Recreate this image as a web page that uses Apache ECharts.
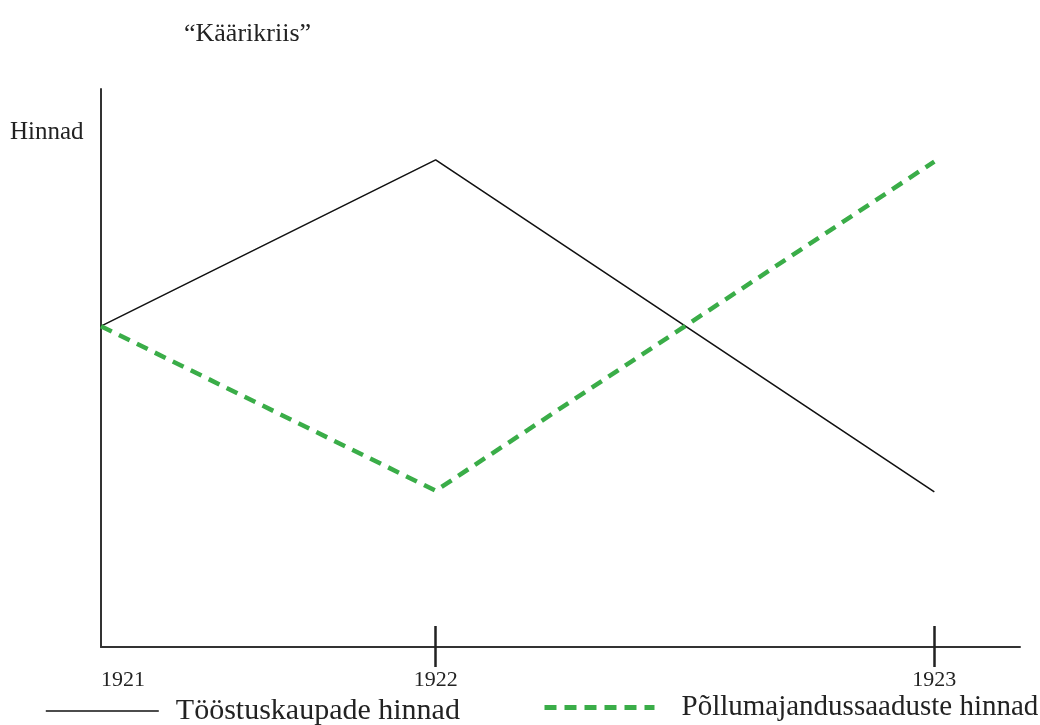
<!DOCTYPE html>
<html>
<head>
<meta charset="utf-8">
<title>Käärikriis</title>
<script src="https://cdn.jsdelivr.net/npm/echarts@6.0.0/dist/echarts.min.js"></script>
<style>
  html, body { margin: 0; padding: 0; background: #fff; }
  #chart { width: 1040px; height: 725px; }
</style>
</head>
<body>
<div id="chart"></div>
<script>
// aastad ja nende asukoht x-teljel (joonisel pole vahed võrdsed)
const years = ['1921', '1922', '1923'];
const yearPos = [0, 1, 2.49];
// hinnad (suhtelised, 0..100)
const industryPrices = [57.5, 87.3, 27.8];
const farmPrices = [57.5, 28.0, 87.0];

const serif = '"Liberation Serif", "DejaVu Serif", serif';
const ink = '#222';
const green = '#3aad48';

const chart = echarts.init(document.getElementById('chart'));

const option = {
  animation: false,
  backgroundColor: '#fff',
  title: [
    {
      text: '“Käärikriis”',
      left: 184, top: 21, padding: 0,
      textStyle: { fontFamily: serif, fontSize: 26, fontWeight: 'normal', color: ink }
    },
    {
      text: 'Hinnad',
      left: 10, top: 120, padding: 0,
      textStyle: { fontFamily: serif, fontSize: 25, fontWeight: 'normal', color: ink }
    }
  ],
  grid: { left: 101, right: 20, top: 89, bottom: 78, containLabel: false },
  legend: [
    {
      left: 45, top: 696, padding: 0,
      itemWidth: 113, itemHeight: 14,
      data: ['Tööstuskaupade hinnad'],
      itemStyle: { opacity: 0 },
      lineStyle: { color: '#111', width: 1.6 },
      textStyle: { fontFamily: serif, fontSize: 30, color: ink, padding: [0, 0, 0, 12] }
    },
    {
      left: 542, top: 693, padding: 0,
      itemWidth: 110, itemHeight: 14,
      data: ['Põllumajandussaaduste hinnad'],
      itemStyle: { opacity: 0 },
      lineStyle: { color: green, width: 5, type: [12, 8] },
      textStyle: { fontFamily: serif, fontSize: 29, color: ink, padding: [0, 0, 0, 22] }
    }
  ],
  xAxis: [
    {
      type: 'value', min: 0, max: 2.746, position: 'bottom',
      axisLine: { show: true, lineStyle: { color: '#333', width: 2 } },
      axisTick: {
        show: true, inside: false, length: 20,
        customValues: yearPos.slice(1),
        lineStyle: { color: '#222', width: 2.5 }
      },
      axisLabel: {
        show: true, margin: 22,
        customValues: yearPos,
        alignMinLabel: 'left',
        formatter: v => years[yearPos.indexOf(v)] || '',
        fontFamily: serif, fontSize: 22, color: ink
      },
      splitLine: { show: false }
    },
    {
      type: 'value', min: 0, max: 2.746, position: 'bottom', offset: 0,
      axisLine: { show: false },
      axisTick: {
        show: true, inside: true, length: 21,
        customValues: yearPos.slice(1),
        lineStyle: { color: '#222', width: 2.5 }
      },
      axisLabel: { show: false },
      splitLine: { show: false }
    }
  ],
  yAxis: {
    type: 'value', min: 0, max: 100,
    axisLine: { show: true, lineStyle: { color: '#333', width: 2 } },
    axisTick: { show: false },
    axisLabel: { show: false },
    splitLine: { show: false }
  },
  series: [
    {
      name: 'Tööstuskaupade hinnad',
      type: 'line',
      symbol: 'none',
      data: yearPos.map((x, i) => [x, industryPrices[i]]),
      lineStyle: { color: '#111', width: 1.6 },
      itemStyle: { color: '#111' }
    },
    {
      name: 'Põllumajandussaaduste hinnad',
      type: 'line',
      symbol: 'none',
      data: yearPos.map((x, i) => [x, farmPrices[i]]),
      lineStyle: { color: green, width: 4.5, type: [12, 8] },
      itemStyle: { color: green }
    }
  ]
};

chart.setOption(option);
</script>
</body>
</html>
